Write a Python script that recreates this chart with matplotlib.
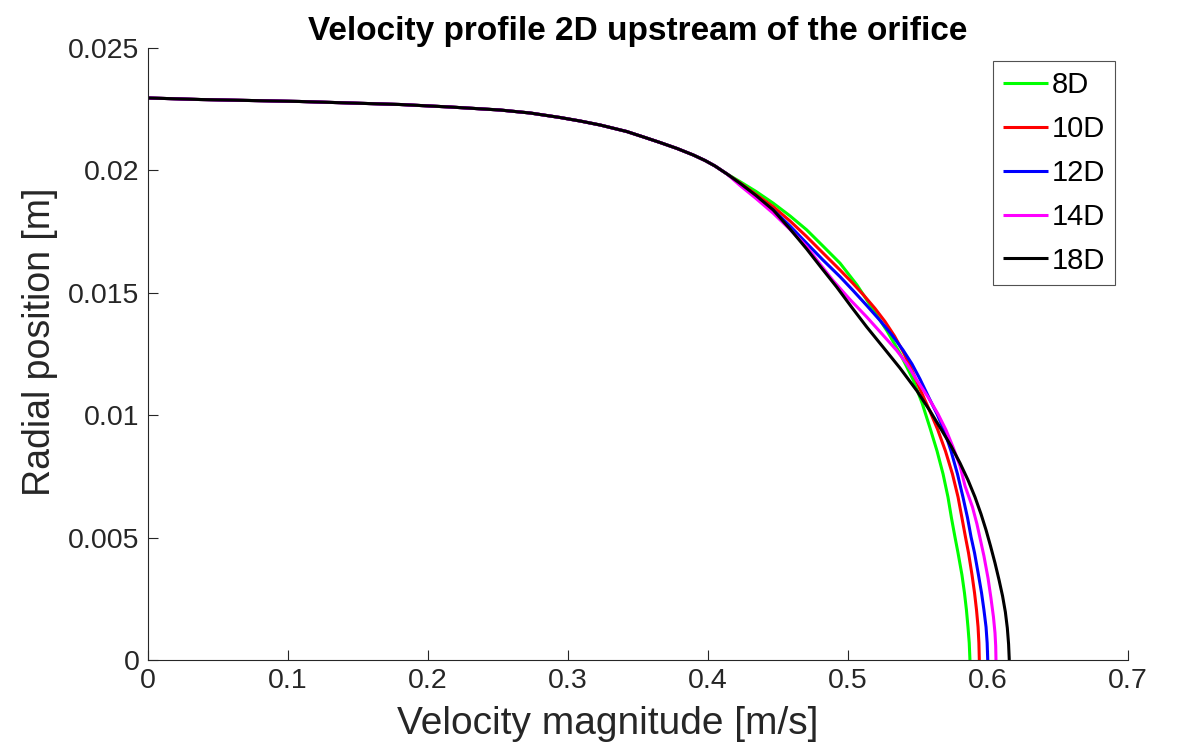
import matplotlib
matplotlib.use("Agg")
import matplotlib.pyplot as plt

plt.rcParams['font.family'] = ['Liberation Sans', 'DejaVu Sans']

# Shared upper part of all profiles (velocity [m/s], radial position [m])
top_vel = [0.0000, 0.0371, 0.1086, 0.1800, 0.2157, 0.2514, 0.2729, 0.2943, 0.3086, 0.3229,
           0.3419, 0.3550, 0.3657, 0.3779, 0.3895, 0.3979, 0.4050, 0.4136]
top_r   = [0.022958, 0.022896, 0.022815, 0.022692, 0.022590, 0.022467, 0.022345, 0.022161, 0.022018, 0.021855,
           0.021589, 0.021344, 0.021140, 0.020895, 0.020629, 0.020404, 0.020180, 0.019853]

vel_8D = [0.4229, 0.4343, 0.4466, 0.4586, 0.4705, 0.4821, 0.4943, 0.5064, 0.5181, 0.5279, 0.5371, 0.5466,
          0.5529, 0.5586, 0.5636, 0.5679, 0.5714, 0.5739, 0.5764, 0.5786, 0.5814, 0.5832, 0.5846, 0.5857,
          0.5866, 0.5871]
r_8D   = [0.019540, 0.019140, 0.018660, 0.018140, 0.017570, 0.016910, 0.016210, 0.015320, 0.014300, 0.013440,
          0.012530, 0.011440, 0.010498, 0.009477, 0.008538, 0.007598, 0.006658, 0.005801, 0.005025, 0.004371,
          0.003472, 0.002737, 0.002042, 0.001348, 0.000694, 0.0]

vel_10D = [0.4229, 0.4343, 0.4466, 0.4586, 0.4705, 0.4821, 0.4943, 0.5036, 0.5114, 0.5193, 0.5264, 0.5332,
           0.5393, 0.5450, 0.5514, 0.5575, 0.5639, 0.5696, 0.5746, 0.5786, 0.5814, 0.5839, 0.5861, 0.5886,
           0.5904, 0.5918, 0.5929, 0.5935, 0.5938]
r_10D   = [0.019485, 0.019015, 0.018517, 0.017933, 0.017292, 0.016626, 0.015931, 0.015380, 0.014890, 0.014359,
           0.013827, 0.013235, 0.012602, 0.011928, 0.011070, 0.010294, 0.009436, 0.008538, 0.007598, 0.006658,
           0.005801, 0.005025, 0.004371, 0.003472, 0.002737, 0.002042, 0.001348, 0.000694, 0.0]

vel_12D = [0.4229, 0.4343, 0.4466, 0.4586, 0.4705, 0.4821, 0.4943, 0.5036, 0.5134, 0.5229, 0.5314, 0.5393,
           0.5457, 0.5514, 0.5579, 0.5636, 0.5686, 0.5736, 0.5782, 0.5821, 0.5854, 0.5879, 0.5904, 0.5932,
           0.5954, 0.5971, 0.5986, 0.5994, 0.5998]
r_12D   = [0.019444, 0.018934, 0.018382, 0.017729, 0.017022, 0.016340, 0.015658, 0.015094, 0.014481, 0.013869,
           0.013276, 0.012663, 0.012092, 0.011479, 0.010703, 0.010049, 0.009395, 0.008538, 0.007598, 0.006658,
           0.005801, 0.005025, 0.004371, 0.003472, 0.002737, 0.002042, 0.001348, 0.000694, 0.0]

vel_14D = [0.4229, 0.4343, 0.4466, 0.4586, 0.4705, 0.4800, 0.4893, 0.5014, 0.5134, 0.5243, 0.5348, 0.5421,
           0.5491, 0.5571, 0.5643, 0.5700, 0.5750, 0.5800, 0.5836, 0.5889, 0.5921, 0.5946, 0.5971, 0.6000,
           0.6021, 0.6039, 0.6050, 0.6055, 0.6057]
r_14D   = [0.019383, 0.018852, 0.018248, 0.017586, 0.016883, 0.016176, 0.015502, 0.014727, 0.014011, 0.013317,
           0.012643, 0.012092, 0.011438, 0.010743, 0.010049, 0.009395, 0.008701, 0.007925, 0.007108, 0.006250,
           0.005556, 0.004902, 0.004248, 0.003350, 0.002533, 0.001757, 0.001103, 0.000572, 0.0]

vel_18D = [0.4229, 0.4343, 0.4466, 0.4586, 0.4705, 0.4811, 0.4919, 0.5025, 0.5134, 0.5250, 0.5371, 0.5493,
           0.5586, 0.5664, 0.5736, 0.5800, 0.5857, 0.5907, 0.5950, 0.5986, 0.6018, 0.6050, 0.6079, 0.6104,
           0.6124, 0.6138, 0.6147, 0.6152]
r_18D   = [0.019473, 0.018975, 0.018382, 0.017606, 0.016789, 0.016013, 0.015237, 0.014420, 0.013603, 0.012786,
           0.011928, 0.010989, 0.010172, 0.009436, 0.008742, 0.008047, 0.007353, 0.006658, 0.005964, 0.005310,
           0.004657, 0.003962, 0.003268, 0.002614, 0.001961, 0.001307, 0.000654, 0.0]

labels = ['8D', '10D', '12D', '14D', '18D']
colors = ['#00ff00', '#ff0000', '#0000ff', '#ff00ff', '#000000']
series_v = [vel_8D, vel_10D, vel_12D, vel_14D, vel_18D]
series_r = [r_8D, r_10D, r_12D, r_14D, r_18D]

x_ticks = [0, 0.1, 0.2, 0.3, 0.4, 0.5, 0.6, 0.7]
x_ticklabels = ['0', '0.1', '0.2', '0.3', '0.4', '0.5', '0.6', '0.7']
y_ticks = [0, 0.005, 0.01, 0.015, 0.02, 0.025]
y_ticklabels = ['0', '0.005', '0.01', '0.015', '0.02', '0.025']

fig = plt.figure(figsize=(11.78, 7.52), dpi=100)
ax = fig.add_axes([148/1178, 92/752, 980/1178, 612/752])

for v, r, lab, c in zip(series_v, series_r, labels, colors):
    ax.plot(top_vel + v, top_r + r, color=c, lw=2.2, label=lab,
            solid_joinstyle='round', solid_capstyle='butt')

ax.set_xlim(0, 0.7)
ax.set_ylim(0, 0.025)
ax.set_xticks(x_ticks)
ax.set_xticklabels(x_ticklabels)
ax.set_yticks(y_ticks)
ax.set_yticklabels(y_ticklabels)

axc = '#262626'
for s in ['top', 'right']:
    ax.spines[s].set_visible(False)
for s in ['left', 'bottom']:
    ax.spines[s].set_color(axc)
    ax.spines[s].set_linewidth(0.8)
ax.tick_params(direction='in', length=7, width=0.8, colors=axc, labelsize=20.5, pad=6)

ax.set_xlabel('Velocity magnitude [m/s]', fontsize=28, color=axc)
ax.set_ylabel('Radial position [m]', fontsize=27, color=axc)
ax.xaxis.set_label_coords(0.469, -0.104, transform=ax.transAxes)
ax.xaxis.label.set_va('center')
ax.yaxis.set_label_coords(-0.110, 0.52, transform=ax.transAxes)
ax.yaxis.label.set_va('center')
ax.set_title('Velocity profile 2D upstream of the orifice', fontsize=24, fontweight='bold', pad=6)

leg = ax.legend(loc='upper right', fontsize=21, frameon=True, fancybox=False,
                edgecolor=axc, handlelength=1.55, handletextpad=0.12,
                borderaxespad=0.45, labelspacing=0.545, borderpad=0.34)
leg.get_frame().set_linewidth(0.8)

fig.savefig('out.png', dpi=100)
